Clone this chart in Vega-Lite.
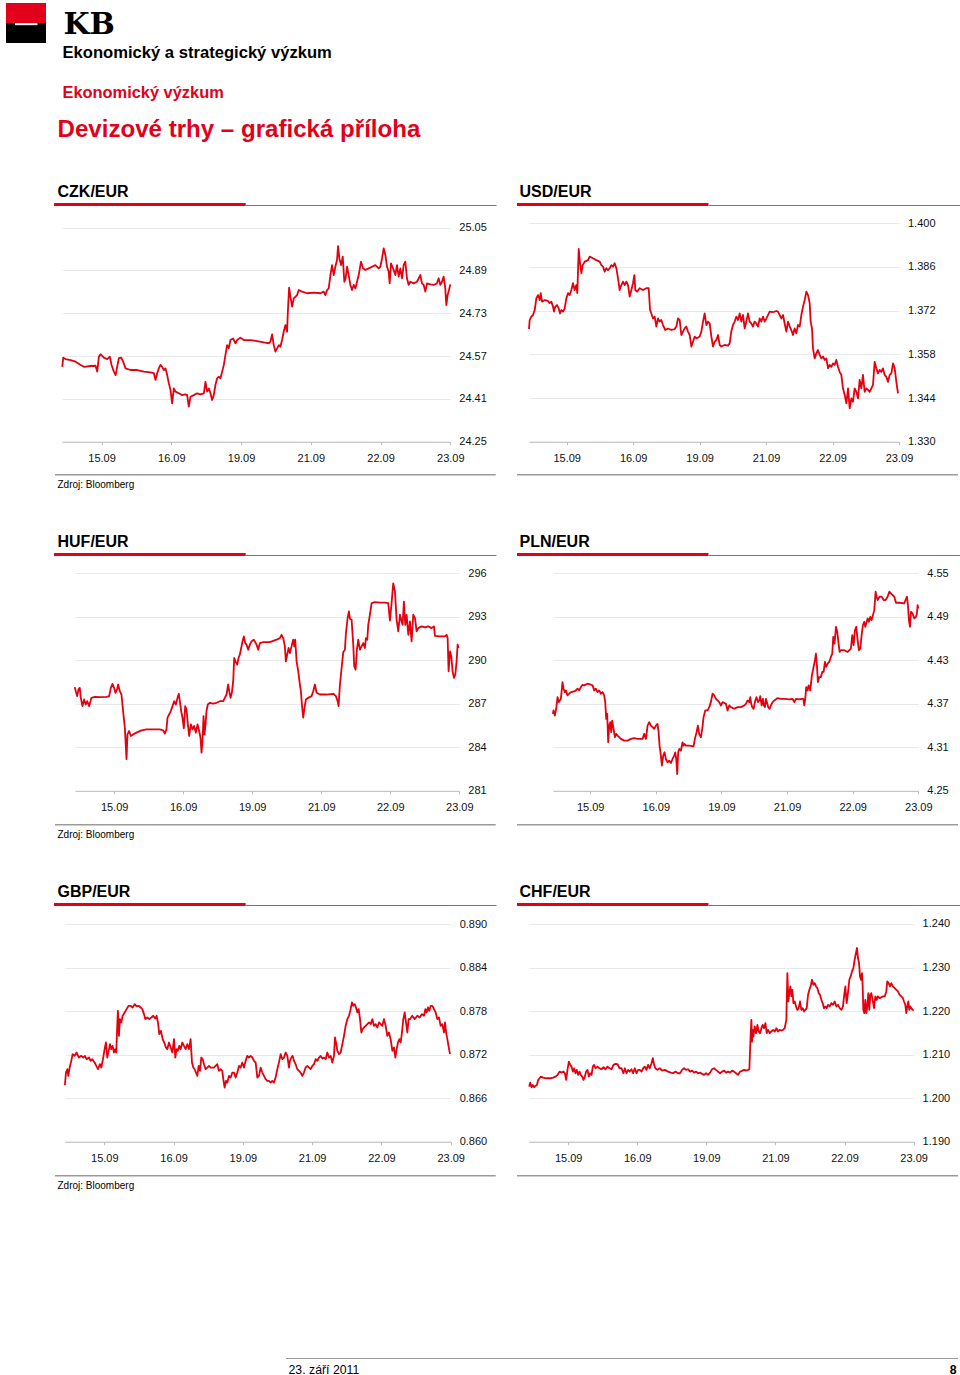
{
"$schema": "https://vega.github.io/schema/vega-lite/v6.json",
"padding": 0,
"background": "white",
"config": {
  "view": {"stroke": null},
  "concat": {"spacing": 0},
  "point": {"filled": true, "strokeWidth": 0, "stroke": null},
  "font": "Liberation Sans",
  "axis": {"labelFont": "Liberation Sans", "labelFontSize": 11, "labelColor": "#111111", "domainColor": "#bdbdbd", "tickColor": "#bdbdbd", "gridColor": "#e9e9e9", "gridWidth": 1, "domainWidth": 1}
},
"datasets": {
  "one": [{}],
  "czk": [{"t":0.437,"v":24.530},{"t":0.451,"v":24.564},{"t":0.484,"v":24.559},{"t":0.556,"v":24.555},{"t":0.628,"v":24.549},{"t":0.699,"v":24.537},{"t":0.747,"v":24.530},{"t":0.842,"v":24.533},{"t":0.914,"v":24.534},{"t":0.938,"v":24.512},{"t":0.962,"v":24.568},{"t":0.986,"v":24.577},{"t":1.033,"v":24.564},{"t":1.081,"v":24.559},{"t":1.119,"v":24.568},{"t":1.143,"v":24.537},{"t":1.177,"v":24.512},{"t":1.201,"v":24.499},{"t":1.224,"v":24.530},{"t":1.248,"v":24.562},{"t":1.282,"v":24.564},{"t":1.310,"v":24.549},{"t":1.344,"v":24.524},{"t":1.415,"v":24.518},{"t":1.511,"v":24.518},{"t":1.606,"v":24.512},{"t":1.702,"v":24.509},{"t":1.750,"v":24.506},{"t":1.774,"v":24.481},{"t":1.798,"v":24.506},{"t":1.821,"v":24.524},{"t":1.845,"v":24.537},{"t":1.869,"v":24.530},{"t":1.893,"v":24.518},{"t":1.917,"v":24.524},{"t":1.941,"v":24.499},{"t":1.965,"v":24.468},{"t":1.989,"v":24.443},{"t":2.012,"v":24.393},{"t":2.036,"v":24.449},{"t":2.060,"v":24.437},{"t":2.108,"v":24.431},{"t":2.156,"v":24.424},{"t":2.203,"v":24.427},{"t":2.227,"v":24.424},{"t":2.251,"v":24.381},{"t":2.275,"v":24.418},{"t":2.323,"v":24.424},{"t":2.371,"v":24.431},{"t":2.418,"v":24.427},{"t":2.466,"v":24.431},{"t":2.490,"v":24.474},{"t":2.514,"v":24.437},{"t":2.538,"v":24.449},{"t":2.562,"v":24.431},{"t":2.585,"v":24.406},{"t":2.609,"v":24.424},{"t":2.633,"v":24.462},{"t":2.657,"v":24.487},{"t":2.681,"v":24.493},{"t":2.705,"v":24.487},{"t":2.729,"v":24.512},{"t":2.753,"v":24.537},{"t":2.776,"v":24.574},{"t":2.800,"v":24.611},{"t":2.824,"v":24.599},{"t":2.848,"v":24.630},{"t":2.886,"v":24.636},{"t":2.920,"v":24.618},{"t":2.944,"v":24.630},{"t":2.991,"v":24.639},{"t":3.039,"v":24.630},{"t":3.135,"v":24.630},{"t":3.230,"v":24.626},{"t":3.326,"v":24.621},{"t":3.397,"v":24.618},{"t":3.421,"v":24.624},{"t":3.445,"v":24.651},{"t":3.469,"v":24.611},{"t":3.493,"v":24.587},{"t":3.517,"v":24.599},{"t":3.541,"v":24.611},{"t":3.564,"v":24.605},{"t":3.588,"v":24.630},{"t":3.612,"v":24.661},{"t":3.636,"v":24.686},{"t":3.660,"v":24.661},{"t":3.670,"v":24.730},{"t":3.689,"v":24.826},{"t":3.708,"v":24.792},{"t":3.732,"v":24.755},{"t":3.756,"v":24.786},{"t":3.803,"v":24.798},{"t":3.827,"v":24.817},{"t":3.875,"v":24.811},{"t":3.947,"v":24.805},{"t":4.042,"v":24.807},{"t":4.138,"v":24.805},{"t":4.185,"v":24.811},{"t":4.209,"v":24.798},{"t":4.233,"v":24.817},{"t":4.257,"v":24.823},{"t":4.281,"v":24.873},{"t":4.305,"v":24.910},{"t":4.329,"v":24.873},{"t":4.352,"v":24.904},{"t":4.376,"v":24.929},{"t":4.391,"v":24.981},{"t":4.410,"v":24.935},{"t":4.434,"v":24.910},{"t":4.458,"v":24.942},{"t":4.481,"v":24.848},{"t":4.500,"v":24.861},{"t":4.520,"v":24.904},{"t":4.543,"v":24.873},{"t":4.567,"v":24.836},{"t":4.591,"v":24.817},{"t":4.615,"v":24.836},{"t":4.639,"v":24.823},{"t":4.663,"v":24.848},{"t":4.687,"v":24.873},{"t":4.720,"v":24.923},{"t":4.749,"v":24.898},{"t":4.782,"v":24.892},{"t":4.830,"v":24.898},{"t":4.878,"v":24.904},{"t":4.926,"v":24.910},{"t":4.973,"v":24.898},{"t":4.997,"v":24.904},{"t":5.021,"v":24.935},{"t":5.045,"v":24.973},{"t":5.069,"v":24.948},{"t":5.093,"v":24.904},{"t":5.116,"v":24.886},{"t":5.131,"v":24.842},{"t":5.150,"v":24.917},{"t":5.188,"v":24.892},{"t":5.212,"v":24.873},{"t":5.236,"v":24.910},{"t":5.260,"v":24.867},{"t":5.284,"v":24.898},{"t":5.308,"v":24.861},{"t":5.331,"v":24.910},{"t":5.355,"v":24.923},{"t":5.379,"v":24.861},{"t":5.403,"v":24.836},{"t":5.427,"v":24.848},{"t":5.475,"v":24.842},{"t":5.522,"v":24.848},{"t":5.570,"v":24.873},{"t":5.594,"v":24.842},{"t":5.618,"v":24.836},{"t":5.642,"v":24.811},{"t":5.666,"v":24.842},{"t":5.713,"v":24.838},{"t":5.761,"v":24.836},{"t":5.809,"v":24.842},{"t":5.833,"v":24.861},{"t":5.857,"v":24.836},{"t":5.881,"v":24.848},{"t":5.904,"v":24.867},{"t":5.928,"v":24.823},{"t":5.943,"v":24.761},{"t":5.962,"v":24.798},{"t":5.981,"v":24.817},{"t":6.000,"v":24.838}],
  "usd": [{"t":0.433,"v":1.3661},{"t":0.443,"v":1.3690},{"t":0.468,"v":1.3701},{"t":0.493,"v":1.3706},{"t":0.519,"v":1.3722},{"t":0.544,"v":1.3760},{"t":0.569,"v":1.3770},{"t":0.594,"v":1.3754},{"t":0.609,"v":1.3776},{"t":0.629,"v":1.3749},{"t":0.669,"v":1.3754},{"t":0.719,"v":1.3751},{"t":0.744,"v":1.3744},{"t":0.769,"v":1.3749},{"t":0.794,"v":1.3733},{"t":0.809,"v":1.3717},{"t":0.829,"v":1.3733},{"t":0.855,"v":1.3738},{"t":0.880,"v":1.3727},{"t":0.900,"v":1.3711},{"t":0.920,"v":1.3722},{"t":0.945,"v":1.3717},{"t":0.970,"v":1.3727},{"t":0.995,"v":1.3760},{"t":1.020,"v":1.3776},{"t":1.045,"v":1.3770},{"t":1.070,"v":1.3786},{"t":1.095,"v":1.3808},{"t":1.120,"v":1.3786},{"t":1.145,"v":1.3802},{"t":1.160,"v":1.3776},{"t":1.181,"v":1.3918},{"t":1.201,"v":1.3872},{"t":1.221,"v":1.3840},{"t":1.241,"v":1.3866},{"t":1.271,"v":1.3877},{"t":1.321,"v":1.3882},{"t":1.346,"v":1.3893},{"t":1.396,"v":1.3888},{"t":1.446,"v":1.3882},{"t":1.496,"v":1.3877},{"t":1.522,"v":1.3866},{"t":1.547,"v":1.3861},{"t":1.572,"v":1.3845},{"t":1.597,"v":1.3856},{"t":1.622,"v":1.3850},{"t":1.647,"v":1.3856},{"t":1.672,"v":1.3866},{"t":1.697,"v":1.3861},{"t":1.722,"v":1.3872},{"t":1.747,"v":1.3856},{"t":1.772,"v":1.3824},{"t":1.797,"v":1.3786},{"t":1.822,"v":1.3802},{"t":1.848,"v":1.3813},{"t":1.873,"v":1.3802},{"t":1.898,"v":1.3813},{"t":1.923,"v":1.3802},{"t":1.948,"v":1.3765},{"t":1.973,"v":1.3786},{"t":1.998,"v":1.3808},{"t":2.018,"v":1.3834},{"t":2.033,"v":1.3786},{"t":2.058,"v":1.3781},{"t":2.098,"v":1.3792},{"t":2.148,"v":1.3786},{"t":2.199,"v":1.3792},{"t":2.234,"v":1.3792},{"t":2.254,"v":1.3722},{"t":2.274,"v":1.3711},{"t":2.299,"v":1.3695},{"t":2.324,"v":1.3701},{"t":2.349,"v":1.3669},{"t":2.374,"v":1.3695},{"t":2.399,"v":1.3685},{"t":2.424,"v":1.3690},{"t":2.449,"v":1.3674},{"t":2.484,"v":1.3658},{"t":2.525,"v":1.3663},{"t":2.575,"v":1.3658},{"t":2.625,"v":1.3661},{"t":2.650,"v":1.3669},{"t":2.675,"v":1.3695},{"t":2.700,"v":1.3690},{"t":2.725,"v":1.3642},{"t":2.750,"v":1.3653},{"t":2.775,"v":1.3663},{"t":2.800,"v":1.3669},{"t":2.825,"v":1.3653},{"t":2.851,"v":1.3642},{"t":2.876,"v":1.3605},{"t":2.901,"v":1.3621},{"t":2.926,"v":1.3637},{"t":2.951,"v":1.3631},{"t":3.001,"v":1.3637},{"t":3.026,"v":1.3653},{"t":3.051,"v":1.3685},{"t":3.076,"v":1.3711},{"t":3.101,"v":1.3674},{"t":3.126,"v":1.3685},{"t":3.151,"v":1.3679},{"t":3.177,"v":1.3637},{"t":3.202,"v":1.3605},{"t":3.227,"v":1.3621},{"t":3.252,"v":1.3626},{"t":3.277,"v":1.3642},{"t":3.302,"v":1.3610},{"t":3.327,"v":1.3605},{"t":3.377,"v":1.3610},{"t":3.427,"v":1.3608},{"t":3.452,"v":1.3615},{"t":3.477,"v":1.3653},{"t":3.502,"v":1.3674},{"t":3.528,"v":1.3685},{"t":3.553,"v":1.3701},{"t":3.578,"v":1.3690},{"t":3.603,"v":1.3711},{"t":3.628,"v":1.3685},{"t":3.653,"v":1.3706},{"t":3.678,"v":1.3663},{"t":3.703,"v":1.3685},{"t":3.728,"v":1.3711},{"t":3.753,"v":1.3685},{"t":3.778,"v":1.3679},{"t":3.803,"v":1.3669},{"t":3.828,"v":1.3685},{"t":3.854,"v":1.3679},{"t":3.879,"v":1.3669},{"t":3.904,"v":1.3695},{"t":3.929,"v":1.3685},{"t":3.954,"v":1.3701},{"t":3.979,"v":1.3685},{"t":4.004,"v":1.3695},{"t":4.029,"v":1.3706},{"t":4.054,"v":1.3717},{"t":4.104,"v":1.3715},{"t":4.154,"v":1.3719},{"t":4.180,"v":1.3717},{"t":4.205,"v":1.3706},{"t":4.230,"v":1.3695},{"t":4.255,"v":1.3706},{"t":4.280,"v":1.3679},{"t":4.305,"v":1.3653},{"t":4.330,"v":1.3685},{"t":4.355,"v":1.3669},{"t":4.380,"v":1.3658},{"t":4.405,"v":1.3642},{"t":4.430,"v":1.3663},{"t":4.455,"v":1.3647},{"t":4.480,"v":1.3674},{"t":4.506,"v":1.3669},{"t":4.531,"v":1.3706},{"t":4.556,"v":1.3733},{"t":4.581,"v":1.3754},{"t":4.606,"v":1.3781},{"t":4.631,"v":1.3770},{"t":4.656,"v":1.3744},{"t":4.671,"v":1.3685},{"t":4.691,"v":1.3663},{"t":4.706,"v":1.3599},{"t":4.731,"v":1.3567},{"t":4.756,"v":1.3583},{"t":4.781,"v":1.3594},{"t":4.806,"v":1.3578},{"t":4.832,"v":1.3567},{"t":4.857,"v":1.3573},{"t":4.882,"v":1.3562},{"t":4.907,"v":1.3567},{"t":4.932,"v":1.3535},{"t":4.957,"v":1.3546},{"t":4.982,"v":1.3540},{"t":5.007,"v":1.3551},{"t":5.032,"v":1.3546},{"t":5.057,"v":1.3562},{"t":5.082,"v":1.3540},{"t":5.107,"v":1.3524},{"t":5.132,"v":1.3514},{"t":5.157,"v":1.3471},{"t":5.183,"v":1.3450},{"t":5.208,"v":1.3423},{"t":5.233,"v":1.3471},{"t":5.258,"v":1.3407},{"t":5.283,"v":1.3439},{"t":5.308,"v":1.3428},{"t":5.333,"v":1.3471},{"t":5.358,"v":1.3460},{"t":5.383,"v":1.3439},{"t":5.408,"v":1.3498},{"t":5.433,"v":1.3471},{"t":5.458,"v":1.3514},{"t":5.483,"v":1.3460},{"t":5.509,"v":1.3471},{"t":5.534,"v":1.3466},{"t":5.559,"v":1.3460},{"t":5.584,"v":1.3471},{"t":5.609,"v":1.3482},{"t":5.634,"v":1.3556},{"t":5.659,"v":1.3535},{"t":5.684,"v":1.3519},{"t":5.709,"v":1.3530},{"t":5.734,"v":1.3524},{"t":5.759,"v":1.3535},{"t":5.784,"v":1.3514},{"t":5.809,"v":1.3508},{"t":5.834,"v":1.3492},{"t":5.860,"v":1.3514},{"t":5.885,"v":1.3519},{"t":5.910,"v":1.3551},{"t":5.935,"v":1.3535},{"t":5.960,"v":1.3492},{"t":5.985,"v":1.3455}],
  "huf": [{"t":0.430,"v":288.15},{"t":0.444,"v":287.87},{"t":0.464,"v":287.53},{"t":0.483,"v":287.99},{"t":0.502,"v":288.10},{"t":0.517,"v":287.41},{"t":0.541,"v":286.84},{"t":0.565,"v":287.30},{"t":0.589,"v":286.95},{"t":0.609,"v":287.18},{"t":0.638,"v":286.84},{"t":0.671,"v":287.41},{"t":0.720,"v":287.48},{"t":0.792,"v":287.46},{"t":0.889,"v":287.48},{"t":0.928,"v":287.53},{"t":0.952,"v":288.10},{"t":0.976,"v":288.37},{"t":1.000,"v":288.10},{"t":1.019,"v":287.76},{"t":1.043,"v":287.99},{"t":1.058,"v":288.33},{"t":1.082,"v":287.87},{"t":1.106,"v":287.64},{"t":1.130,"v":286.50},{"t":1.155,"v":285.35},{"t":1.179,"v":283.18},{"t":1.193,"v":284.89},{"t":1.217,"v":285.12},{"t":1.242,"v":284.78},{"t":1.275,"v":284.89},{"t":1.324,"v":285.01},{"t":1.396,"v":285.17},{"t":1.469,"v":285.24},{"t":1.565,"v":285.24},{"t":1.662,"v":285.24},{"t":1.710,"v":285.17},{"t":1.734,"v":284.94},{"t":1.758,"v":285.24},{"t":1.773,"v":286.04},{"t":1.797,"v":286.27},{"t":1.821,"v":286.50},{"t":1.845,"v":286.84},{"t":1.870,"v":287.18},{"t":1.894,"v":286.95},{"t":1.918,"v":287.41},{"t":1.937,"v":287.69},{"t":1.952,"v":287.18},{"t":1.971,"v":286.50},{"t":1.990,"v":286.04},{"t":2.010,"v":285.31},{"t":2.029,"v":286.84},{"t":2.048,"v":286.61},{"t":2.068,"v":285.58},{"t":2.087,"v":284.78},{"t":2.111,"v":285.58},{"t":2.135,"v":285.24},{"t":2.159,"v":285.47},{"t":2.184,"v":285.01},{"t":2.208,"v":285.58},{"t":2.232,"v":285.12},{"t":2.251,"v":284.66},{"t":2.266,"v":283.63},{"t":2.280,"v":284.44},{"t":2.295,"v":286.15},{"t":2.309,"v":284.89},{"t":2.324,"v":285.58},{"t":2.338,"v":286.50},{"t":2.357,"v":286.95},{"t":2.387,"v":287.07},{"t":2.435,"v":287.02},{"t":2.483,"v":287.07},{"t":2.531,"v":287.18},{"t":2.580,"v":287.18},{"t":2.604,"v":287.41},{"t":2.628,"v":287.64},{"t":2.652,"v":288.33},{"t":2.667,"v":287.87},{"t":2.686,"v":287.41},{"t":2.705,"v":287.76},{"t":2.725,"v":288.56},{"t":2.739,"v":290.16},{"t":2.758,"v":289.93},{"t":2.783,"v":289.70},{"t":2.802,"v":290.16},{"t":2.821,"v":290.39},{"t":2.841,"v":290.85},{"t":2.860,"v":291.31},{"t":2.879,"v":291.65},{"t":2.899,"v":291.19},{"t":2.918,"v":291.08},{"t":2.942,"v":290.73},{"t":2.966,"v":291.08},{"t":2.990,"v":291.31},{"t":3.024,"v":291.42},{"t":3.063,"v":291.08},{"t":3.087,"v":290.73},{"t":3.111,"v":291.19},{"t":3.159,"v":291.26},{"t":3.256,"v":291.26},{"t":3.353,"v":291.42},{"t":3.401,"v":291.53},{"t":3.425,"v":291.76},{"t":3.449,"v":291.53},{"t":3.473,"v":290.96},{"t":3.488,"v":289.93},{"t":3.507,"v":290.39},{"t":3.527,"v":290.85},{"t":3.546,"v":290.50},{"t":3.570,"v":290.96},{"t":3.594,"v":291.42},{"t":3.609,"v":290.96},{"t":3.623,"v":291.42},{"t":3.643,"v":289.93},{"t":3.667,"v":289.24},{"t":3.691,"v":288.33},{"t":3.705,"v":287.87},{"t":3.720,"v":286.95},{"t":3.739,"v":286.04},{"t":3.758,"v":286.73},{"t":3.778,"v":287.30},{"t":3.812,"v":287.41},{"t":3.860,"v":287.53},{"t":3.884,"v":287.87},{"t":3.908,"v":288.33},{"t":3.932,"v":287.76},{"t":3.981,"v":287.64},{"t":4.077,"v":287.64},{"t":4.174,"v":287.69},{"t":4.213,"v":287.53},{"t":4.237,"v":287.18},{"t":4.251,"v":286.84},{"t":4.271,"v":288.33},{"t":4.295,"v":289.47},{"t":4.319,"v":290.57},{"t":4.343,"v":290.73},{"t":4.358,"v":291.88},{"t":4.382,"v":292.91},{"t":4.401,"v":293.37},{"t":4.416,"v":292.86},{"t":4.440,"v":292.79},{"t":4.464,"v":291.08},{"t":4.478,"v":289.59},{"t":4.498,"v":289.36},{"t":4.517,"v":290.73},{"t":4.536,"v":291.42},{"t":4.560,"v":290.73},{"t":4.585,"v":290.96},{"t":4.609,"v":291.19},{"t":4.633,"v":290.85},{"t":4.647,"v":291.53},{"t":4.667,"v":291.42},{"t":4.681,"v":292.45},{"t":4.705,"v":293.14},{"t":4.730,"v":293.94},{"t":4.778,"v":294.01},{"t":4.850,"v":293.98},{"t":4.923,"v":293.98},{"t":4.971,"v":293.94},{"t":4.995,"v":292.73},{"t":5.019,"v":293.94},{"t":5.043,"v":295.31},{"t":5.068,"v":294.74},{"t":5.092,"v":292.79},{"t":5.116,"v":291.99},{"t":5.140,"v":293.14},{"t":5.164,"v":292.68},{"t":5.179,"v":292.45},{"t":5.198,"v":294.05},{"t":5.217,"v":292.45},{"t":5.237,"v":293.14},{"t":5.261,"v":291.76},{"t":5.285,"v":292.68},{"t":5.309,"v":291.31},{"t":5.333,"v":293.14},{"t":5.358,"v":292.91},{"t":5.382,"v":291.99},{"t":5.406,"v":292.22},{"t":5.454,"v":292.34},{"t":5.502,"v":292.27},{"t":5.551,"v":292.34},{"t":5.599,"v":292.22},{"t":5.633,"v":292.34},{"t":5.647,"v":291.69},{"t":5.720,"v":291.65},{"t":5.792,"v":291.65},{"t":5.816,"v":291.76},{"t":5.831,"v":291.53},{"t":5.845,"v":289.24},{"t":5.865,"v":290.62},{"t":5.884,"v":290.27},{"t":5.903,"v":289.24},{"t":5.923,"v":288.79},{"t":5.942,"v":289.02},{"t":5.961,"v":289.93},{"t":5.976,"v":291.08},{"t":5.990,"v":290.85}],
  "pln": [{"t":0.431,"v":4.3562},{"t":0.441,"v":4.3608},{"t":0.461,"v":4.3539},{"t":0.482,"v":4.3631},{"t":0.502,"v":4.3792},{"t":0.522,"v":4.3723},{"t":0.553,"v":4.3769},{"t":0.578,"v":4.4000},{"t":0.594,"v":4.3908},{"t":0.614,"v":4.3862},{"t":0.629,"v":4.3885},{"t":0.654,"v":4.3816},{"t":0.680,"v":4.3839},{"t":0.705,"v":4.3862},{"t":0.756,"v":4.3871},{"t":0.782,"v":4.3885},{"t":0.807,"v":4.3908},{"t":0.832,"v":4.3885},{"t":0.858,"v":4.3931},{"t":0.883,"v":4.3963},{"t":0.909,"v":4.3954},{"t":0.959,"v":4.3977},{"t":1.010,"v":4.3963},{"t":1.036,"v":4.3954},{"t":1.061,"v":4.3885},{"t":1.086,"v":4.3908},{"t":1.112,"v":4.3862},{"t":1.137,"v":4.3885},{"t":1.163,"v":4.3839},{"t":1.188,"v":4.3862},{"t":1.213,"v":4.3816},{"t":1.229,"v":4.3723},{"t":1.244,"v":4.3492},{"t":1.259,"v":4.3562},{"t":1.274,"v":4.3169},{"t":1.290,"v":4.3400},{"t":1.305,"v":4.3446},{"t":1.320,"v":4.3308},{"t":1.335,"v":4.3469},{"t":1.356,"v":4.3354},{"t":1.376,"v":4.3239},{"t":1.396,"v":4.3285},{"t":1.417,"v":4.3262},{"t":1.442,"v":4.3239},{"t":1.467,"v":4.3216},{"t":1.518,"v":4.3192},{"t":1.569,"v":4.3192},{"t":1.620,"v":4.3216},{"t":1.671,"v":4.3225},{"t":1.722,"v":4.3216},{"t":1.798,"v":4.3216},{"t":1.823,"v":4.3285},{"t":1.849,"v":4.3216},{"t":1.874,"v":4.3400},{"t":1.899,"v":4.3446},{"t":1.925,"v":4.3400},{"t":1.950,"v":4.3377},{"t":1.976,"v":4.3354},{"t":2.001,"v":4.3400},{"t":2.026,"v":4.3423},{"t":2.042,"v":4.3308},{"t":2.057,"v":4.3123},{"t":2.077,"v":4.2985},{"t":2.092,"v":4.2846},{"t":2.113,"v":4.2985},{"t":2.133,"v":4.3031},{"t":2.153,"v":4.2939},{"t":2.179,"v":4.2893},{"t":2.204,"v":4.2916},{"t":2.230,"v":4.2883},{"t":2.255,"v":4.2939},{"t":2.280,"v":4.2985},{"t":2.296,"v":4.3031},{"t":2.311,"v":4.2939},{"t":2.326,"v":4.2731},{"t":2.341,"v":4.3031},{"t":2.357,"v":4.3077},{"t":2.382,"v":4.3054},{"t":2.407,"v":4.3169},{"t":2.423,"v":4.3123},{"t":2.438,"v":4.3146},{"t":2.458,"v":4.3123},{"t":2.509,"v":4.3123},{"t":2.575,"v":4.3114},{"t":2.595,"v":4.3216},{"t":2.621,"v":4.3308},{"t":2.641,"v":4.3400},{"t":2.661,"v":4.3285},{"t":2.687,"v":4.3239},{"t":2.707,"v":4.3354},{"t":2.728,"v":4.3516},{"t":2.753,"v":4.3608},{"t":2.789,"v":4.3608},{"t":2.814,"v":4.3654},{"t":2.839,"v":4.3723},{"t":2.865,"v":4.3839},{"t":2.890,"v":4.3816},{"t":2.916,"v":4.3769},{"t":2.941,"v":4.3746},{"t":2.966,"v":4.3723},{"t":2.992,"v":4.3677},{"t":3.017,"v":4.3723},{"t":3.068,"v":4.3700},{"t":3.093,"v":4.3608},{"t":3.119,"v":4.3677},{"t":3.144,"v":4.3654},{"t":3.195,"v":4.3631},{"t":3.246,"v":4.3654},{"t":3.297,"v":4.3654},{"t":3.347,"v":4.3677},{"t":3.373,"v":4.3700},{"t":3.398,"v":4.3746},{"t":3.424,"v":4.3723},{"t":3.439,"v":4.3792},{"t":3.454,"v":4.3700},{"t":3.469,"v":4.3654},{"t":3.490,"v":4.3631},{"t":3.515,"v":4.3746},{"t":3.535,"v":4.3792},{"t":3.556,"v":4.3723},{"t":3.576,"v":4.3746},{"t":3.591,"v":4.3806},{"t":3.612,"v":4.3677},{"t":3.632,"v":4.3769},{"t":3.647,"v":4.3677},{"t":3.662,"v":4.3654},{"t":3.678,"v":4.3769},{"t":3.693,"v":4.3723},{"t":3.713,"v":4.3654},{"t":3.734,"v":4.3631},{"t":3.754,"v":4.3677},{"t":3.779,"v":4.3723},{"t":3.805,"v":4.3746},{"t":3.856,"v":4.3779},{"t":3.906,"v":4.3769},{"t":3.957,"v":4.3769},{"t":4.033,"v":4.3760},{"t":4.084,"v":4.3769},{"t":4.110,"v":4.3723},{"t":4.135,"v":4.3769},{"t":4.186,"v":4.3760},{"t":4.221,"v":4.3769},{"t":4.247,"v":4.3769},{"t":4.262,"v":4.3677},{"t":4.277,"v":4.3769},{"t":4.292,"v":4.3931},{"t":4.313,"v":4.3885},{"t":4.328,"v":4.3954},{"t":4.353,"v":4.3885},{"t":4.379,"v":4.4092},{"t":4.404,"v":4.4208},{"t":4.425,"v":4.4300},{"t":4.440,"v":4.4392},{"t":4.455,"v":4.4231},{"t":4.470,"v":4.4000},{"t":4.491,"v":4.4069},{"t":4.516,"v":4.4069},{"t":4.536,"v":4.4139},{"t":4.557,"v":4.4139},{"t":4.577,"v":4.4277},{"t":4.597,"v":4.4208},{"t":4.618,"v":4.4254},{"t":4.643,"v":4.4277},{"t":4.668,"v":4.4346},{"t":4.689,"v":4.4392},{"t":4.704,"v":4.4623},{"t":4.724,"v":4.4531},{"t":4.745,"v":4.4762},{"t":4.765,"v":4.4692},{"t":4.785,"v":4.4531},{"t":4.801,"v":4.4415},{"t":4.821,"v":4.4439},{"t":4.872,"v":4.4439},{"t":4.923,"v":4.4415},{"t":4.973,"v":4.4462},{"t":4.994,"v":4.4646},{"t":5.014,"v":4.4508},{"t":5.034,"v":4.4715},{"t":5.055,"v":4.4762},{"t":5.075,"v":4.4577},{"t":5.095,"v":4.4439},{"t":5.116,"v":4.4462},{"t":5.136,"v":4.4646},{"t":5.156,"v":4.4785},{"t":5.177,"v":4.4831},{"t":5.192,"v":4.4762},{"t":5.207,"v":4.4808},{"t":5.227,"v":4.4877},{"t":5.248,"v":4.4831},{"t":5.268,"v":4.4900},{"t":5.288,"v":4.4854},{"t":5.309,"v":4.4923},{"t":5.329,"v":4.4992},{"t":5.349,"v":4.5246},{"t":5.365,"v":4.5177},{"t":5.380,"v":4.5131},{"t":5.410,"v":4.5177},{"t":5.441,"v":4.5177},{"t":5.471,"v":4.5131},{"t":5.502,"v":4.5131},{"t":5.532,"v":4.5177},{"t":5.558,"v":4.5246},{"t":5.583,"v":4.5223},{"t":5.608,"v":4.5200},{"t":5.634,"v":4.5177},{"t":5.659,"v":4.5094},{"t":5.710,"v":4.5094},{"t":5.786,"v":4.5085},{"t":5.812,"v":4.5145},{"t":5.827,"v":4.5177},{"t":5.842,"v":4.5062},{"t":5.857,"v":4.4854},{"t":5.873,"v":4.4762},{"t":5.888,"v":4.4969},{"t":5.913,"v":4.4946},{"t":5.939,"v":4.4877},{"t":5.964,"v":4.4900},{"t":5.979,"v":4.4946},{"t":5.990,"v":4.5062},{"t":6.000,"v":4.5015}],
  "gbp": [{"t":0.432,"v":0.86778},{"t":0.447,"v":0.86953},{"t":0.466,"v":0.86999},{"t":0.480,"v":0.86907},{"t":0.500,"v":0.87022},{"t":0.524,"v":0.87114},{"t":0.543,"v":0.87206},{"t":0.572,"v":0.87183},{"t":0.601,"v":0.87229},{"t":0.634,"v":0.87160},{"t":0.668,"v":0.87183},{"t":0.697,"v":0.87160},{"t":0.721,"v":0.87183},{"t":0.745,"v":0.87137},{"t":0.779,"v":0.87160},{"t":0.803,"v":0.87114},{"t":0.827,"v":0.87137},{"t":0.860,"v":0.87091},{"t":0.885,"v":0.87045},{"t":0.909,"v":0.86999},{"t":0.937,"v":0.87068},{"t":0.957,"v":0.87022},{"t":0.981,"v":0.87137},{"t":1.005,"v":0.87275},{"t":1.024,"v":0.87367},{"t":1.043,"v":0.87160},{"t":1.063,"v":0.87252},{"t":1.082,"v":0.87344},{"t":1.101,"v":0.87275},{"t":1.120,"v":0.87321},{"t":1.140,"v":0.87229},{"t":1.159,"v":0.87275},{"t":1.173,"v":0.87229},{"t":1.188,"v":0.87620},{"t":1.197,"v":0.87804},{"t":1.212,"v":0.87459},{"t":1.226,"v":0.87689},{"t":1.245,"v":0.87643},{"t":1.265,"v":0.87735},{"t":1.294,"v":0.87781},{"t":1.322,"v":0.87827},{"t":1.351,"v":0.87873},{"t":1.380,"v":0.87873},{"t":1.409,"v":0.87850},{"t":1.438,"v":0.87896},{"t":1.467,"v":0.87864},{"t":1.496,"v":0.87873},{"t":1.525,"v":0.87850},{"t":1.549,"v":0.87827},{"t":1.573,"v":0.87758},{"t":1.592,"v":0.87689},{"t":1.621,"v":0.87712},{"t":1.650,"v":0.87689},{"t":1.679,"v":0.87712},{"t":1.707,"v":0.87735},{"t":1.736,"v":0.87698},{"t":1.755,"v":0.87735},{"t":1.775,"v":0.87643},{"t":1.794,"v":0.87482},{"t":1.818,"v":0.87528},{"t":1.842,"v":0.87413},{"t":1.866,"v":0.87367},{"t":1.890,"v":0.87298},{"t":1.909,"v":0.87275},{"t":1.934,"v":0.87367},{"t":1.958,"v":0.87298},{"t":1.982,"v":0.87229},{"t":2.006,"v":0.87413},{"t":2.025,"v":0.87160},{"t":2.044,"v":0.87275},{"t":2.063,"v":0.87252},{"t":2.083,"v":0.87321},{"t":2.102,"v":0.87275},{"t":2.126,"v":0.87367},{"t":2.150,"v":0.87321},{"t":2.174,"v":0.87275},{"t":2.198,"v":0.87344},{"t":2.222,"v":0.87275},{"t":2.246,"v":0.87413},{"t":2.266,"v":0.87091},{"t":2.285,"v":0.87022},{"t":2.304,"v":0.86999},{"t":2.323,"v":0.86953},{"t":2.343,"v":0.86907},{"t":2.362,"v":0.87045},{"t":2.381,"v":0.86976},{"t":2.400,"v":0.87160},{"t":2.420,"v":0.87137},{"t":2.439,"v":0.87068},{"t":2.463,"v":0.86999},{"t":2.487,"v":0.87022},{"t":2.511,"v":0.87045},{"t":2.535,"v":0.87022},{"t":2.583,"v":0.87022},{"t":2.631,"v":0.87068},{"t":2.655,"v":0.86976},{"t":2.679,"v":0.86999},{"t":2.703,"v":0.86976},{"t":2.718,"v":0.86861},{"t":2.737,"v":0.86746},{"t":2.756,"v":0.86838},{"t":2.776,"v":0.86815},{"t":2.800,"v":0.86907},{"t":2.824,"v":0.86884},{"t":2.848,"v":0.86953},{"t":2.872,"v":0.86953},{"t":2.896,"v":0.86884},{"t":2.920,"v":0.86953},{"t":2.944,"v":0.87045},{"t":2.968,"v":0.87022},{"t":2.992,"v":0.87091},{"t":3.016,"v":0.87022},{"t":3.040,"v":0.87114},{"t":3.064,"v":0.87183},{"t":3.088,"v":0.87160},{"t":3.112,"v":0.87183},{"t":3.137,"v":0.87160},{"t":3.161,"v":0.87114},{"t":3.185,"v":0.87091},{"t":3.209,"v":0.86884},{"t":3.233,"v":0.86907},{"t":3.257,"v":0.87022},{"t":3.281,"v":0.86953},{"t":3.305,"v":0.86907},{"t":3.329,"v":0.86861},{"t":3.353,"v":0.86838},{"t":3.377,"v":0.86838},{"t":3.401,"v":0.86815},{"t":3.425,"v":0.86838},{"t":3.449,"v":0.86815},{"t":3.473,"v":0.86884},{"t":3.497,"v":0.86999},{"t":3.521,"v":0.87091},{"t":3.546,"v":0.87206},{"t":3.570,"v":0.87137},{"t":3.594,"v":0.87160},{"t":3.618,"v":0.87229},{"t":3.642,"v":0.87183},{"t":3.666,"v":0.87022},{"t":3.680,"v":0.87114},{"t":3.700,"v":0.87160},{"t":3.719,"v":0.87183},{"t":3.738,"v":0.87114},{"t":3.762,"v":0.87068},{"t":3.786,"v":0.86999},{"t":3.810,"v":0.86976},{"t":3.834,"v":0.86953},{"t":3.858,"v":0.86907},{"t":3.882,"v":0.86953},{"t":3.906,"v":0.87022},{"t":3.931,"v":0.87045},{"t":3.955,"v":0.87022},{"t":3.979,"v":0.86999},{"t":4.003,"v":0.87045},{"t":4.027,"v":0.87068},{"t":4.051,"v":0.87137},{"t":4.075,"v":0.87114},{"t":4.099,"v":0.87160},{"t":4.123,"v":0.87183},{"t":4.147,"v":0.87146},{"t":4.171,"v":0.87160},{"t":4.195,"v":0.87137},{"t":4.219,"v":0.87229},{"t":4.243,"v":0.87160},{"t":4.267,"v":0.87183},{"t":4.291,"v":0.87091},{"t":4.315,"v":0.87183},{"t":4.330,"v":0.87436},{"t":4.349,"v":0.87344},{"t":4.364,"v":0.87252},{"t":4.388,"v":0.87206},{"t":4.412,"v":0.87229},{"t":4.436,"v":0.87344},{"t":4.460,"v":0.87459},{"t":4.484,"v":0.87597},{"t":4.508,"v":0.87689},{"t":4.532,"v":0.87735},{"t":4.556,"v":0.87827},{"t":4.575,"v":0.87919},{"t":4.595,"v":0.87873},{"t":4.614,"v":0.87896},{"t":4.633,"v":0.87850},{"t":4.652,"v":0.87781},{"t":4.672,"v":0.87827},{"t":4.691,"v":0.87689},{"t":4.710,"v":0.87505},{"t":4.729,"v":0.87551},{"t":4.749,"v":0.87574},{"t":4.773,"v":0.87597},{"t":4.797,"v":0.87620},{"t":4.821,"v":0.87643},{"t":4.845,"v":0.87620},{"t":4.869,"v":0.87689},{"t":4.893,"v":0.87597},{"t":4.917,"v":0.87620},{"t":4.941,"v":0.87574},{"t":4.965,"v":0.87643},{"t":4.989,"v":0.87620},{"t":5.013,"v":0.87597},{"t":5.037,"v":0.87689},{"t":5.061,"v":0.87597},{"t":5.085,"v":0.87459},{"t":5.109,"v":0.87505},{"t":5.133,"v":0.87413},{"t":5.158,"v":0.87252},{"t":5.182,"v":0.87298},{"t":5.201,"v":0.87160},{"t":5.220,"v":0.87275},{"t":5.239,"v":0.87367},{"t":5.259,"v":0.87413},{"t":5.278,"v":0.87367},{"t":5.297,"v":0.87505},{"t":5.316,"v":0.87689},{"t":5.336,"v":0.87781},{"t":5.355,"v":0.87643},{"t":5.374,"v":0.87505},{"t":5.393,"v":0.87689},{"t":5.413,"v":0.87689},{"t":5.446,"v":0.87735},{"t":5.480,"v":0.87689},{"t":5.518,"v":0.87735},{"t":5.552,"v":0.87712},{"t":5.586,"v":0.87758},{"t":5.615,"v":0.87735},{"t":5.634,"v":0.87827},{"t":5.653,"v":0.87781},{"t":5.672,"v":0.87850},{"t":5.692,"v":0.87804},{"t":5.711,"v":0.87873},{"t":5.735,"v":0.87873},{"t":5.759,"v":0.87827},{"t":5.783,"v":0.87781},{"t":5.807,"v":0.87689},{"t":5.831,"v":0.87712},{"t":5.855,"v":0.87597},{"t":5.879,"v":0.87620},{"t":5.903,"v":0.87505},{"t":5.918,"v":0.87643},{"t":5.937,"v":0.87482},{"t":5.952,"v":0.87413},{"t":5.976,"v":0.87275},{"t":5.990,"v":0.87206}],
  "chf": [{"t":0.436,"v":1.20265},{"t":0.450,"v":1.20357},{"t":0.470,"v":1.20250},{"t":0.489,"v":1.20304},{"t":0.508,"v":1.20250},{"t":0.527,"v":1.20281},{"t":0.547,"v":1.20304},{"t":0.566,"v":1.20419},{"t":0.585,"v":1.20457},{"t":0.605,"v":1.20495},{"t":0.638,"v":1.20472},{"t":0.687,"v":1.20457},{"t":0.735,"v":1.20457},{"t":0.783,"v":1.20472},{"t":0.817,"v":1.20495},{"t":0.846,"v":1.20534},{"t":0.875,"v":1.20610},{"t":0.904,"v":1.20587},{"t":0.932,"v":1.20610},{"t":0.952,"v":1.20572},{"t":0.971,"v":1.20419},{"t":0.990,"v":1.20649},{"t":1.010,"v":1.20840},{"t":1.029,"v":1.20764},{"t":1.048,"v":1.20725},{"t":1.068,"v":1.20610},{"t":1.087,"v":1.20687},{"t":1.106,"v":1.20572},{"t":1.125,"v":1.20649},{"t":1.145,"v":1.20534},{"t":1.164,"v":1.20610},{"t":1.183,"v":1.20534},{"t":1.203,"v":1.20495},{"t":1.222,"v":1.20419},{"t":1.241,"v":1.20495},{"t":1.260,"v":1.20610},{"t":1.280,"v":1.20649},{"t":1.299,"v":1.20495},{"t":1.318,"v":1.20572},{"t":1.338,"v":1.20534},{"t":1.357,"v":1.20725},{"t":1.376,"v":1.20764},{"t":1.395,"v":1.20687},{"t":1.424,"v":1.20725},{"t":1.453,"v":1.20687},{"t":1.482,"v":1.20664},{"t":1.511,"v":1.20710},{"t":1.540,"v":1.20664},{"t":1.569,"v":1.20725},{"t":1.598,"v":1.20687},{"t":1.627,"v":1.20664},{"t":1.656,"v":1.20764},{"t":1.685,"v":1.20787},{"t":1.714,"v":1.20779},{"t":1.743,"v":1.20687},{"t":1.772,"v":1.20687},{"t":1.800,"v":1.20572},{"t":1.820,"v":1.20687},{"t":1.844,"v":1.20572},{"t":1.868,"v":1.20649},{"t":1.892,"v":1.20610},{"t":1.916,"v":1.20664},{"t":1.940,"v":1.20572},{"t":1.964,"v":1.20687},{"t":1.989,"v":1.20572},{"t":2.013,"v":1.20649},{"t":2.037,"v":1.20649},{"t":2.061,"v":1.20610},{"t":2.085,"v":1.20687},{"t":2.109,"v":1.20725},{"t":2.133,"v":1.20649},{"t":2.157,"v":1.20764},{"t":2.181,"v":1.20687},{"t":2.206,"v":1.20802},{"t":2.225,"v":1.20917},{"t":2.244,"v":1.20764},{"t":2.263,"v":1.20687},{"t":2.292,"v":1.20649},{"t":2.326,"v":1.20687},{"t":2.360,"v":1.20633},{"t":2.398,"v":1.20649},{"t":2.447,"v":1.20610},{"t":2.485,"v":1.20587},{"t":2.519,"v":1.20572},{"t":2.553,"v":1.20610},{"t":2.591,"v":1.20572},{"t":2.620,"v":1.20572},{"t":2.649,"v":1.20649},{"t":2.678,"v":1.20687},{"t":2.707,"v":1.20649},{"t":2.736,"v":1.20664},{"t":2.765,"v":1.20610},{"t":2.794,"v":1.20633},{"t":2.823,"v":1.20587},{"t":2.852,"v":1.20610},{"t":2.881,"v":1.20572},{"t":2.909,"v":1.20587},{"t":2.938,"v":1.20557},{"t":2.967,"v":1.20534},{"t":2.996,"v":1.20572},{"t":3.025,"v":1.20534},{"t":3.054,"v":1.20587},{"t":3.083,"v":1.20664},{"t":3.112,"v":1.20687},{"t":3.141,"v":1.20649},{"t":3.170,"v":1.20610},{"t":3.199,"v":1.20572},{"t":3.228,"v":1.20610},{"t":3.257,"v":1.20633},{"t":3.286,"v":1.20587},{"t":3.315,"v":1.20610},{"t":3.344,"v":1.20587},{"t":3.372,"v":1.20633},{"t":3.401,"v":1.20610},{"t":3.430,"v":1.20572},{"t":3.459,"v":1.20534},{"t":3.488,"v":1.20610},{"t":3.517,"v":1.20626},{"t":3.546,"v":1.20649},{"t":3.575,"v":1.20633},{"t":3.604,"v":1.20649},{"t":3.623,"v":1.20664},{"t":3.633,"v":1.21109},{"t":3.642,"v":1.21492},{"t":3.652,"v":1.21799},{"t":3.662,"v":1.21301},{"t":3.671,"v":1.21569},{"t":3.681,"v":1.21416},{"t":3.700,"v":1.21646},{"t":3.720,"v":1.21492},{"t":3.739,"v":1.21684},{"t":3.758,"v":1.21531},{"t":3.777,"v":1.21492},{"t":3.797,"v":1.21607},{"t":3.816,"v":1.21684},{"t":3.835,"v":1.21607},{"t":3.855,"v":1.21722},{"t":3.874,"v":1.21492},{"t":3.893,"v":1.21569},{"t":3.917,"v":1.21492},{"t":3.941,"v":1.21531},{"t":3.966,"v":1.21569},{"t":3.990,"v":1.21531},{"t":4.014,"v":1.21607},{"t":4.038,"v":1.21531},{"t":4.062,"v":1.21569},{"t":4.086,"v":1.21554},{"t":4.110,"v":1.21569},{"t":4.134,"v":1.21607},{"t":4.158,"v":1.21799},{"t":4.173,"v":1.22873},{"t":4.187,"v":1.22221},{"t":4.202,"v":1.22413},{"t":4.216,"v":1.22566},{"t":4.231,"v":1.22336},{"t":4.245,"v":1.22489},{"t":4.260,"v":1.22182},{"t":4.279,"v":1.22221},{"t":4.298,"v":1.22106},{"t":4.318,"v":1.22029},{"t":4.337,"v":1.22067},{"t":4.356,"v":1.22221},{"t":4.375,"v":1.22029},{"t":4.395,"v":1.22067},{"t":4.414,"v":1.21991},{"t":4.433,"v":1.22029},{"t":4.453,"v":1.22067},{"t":4.472,"v":1.22374},{"t":4.491,"v":1.22489},{"t":4.510,"v":1.22566},{"t":4.530,"v":1.22719},{"t":4.549,"v":1.22604},{"t":4.568,"v":1.22643},{"t":4.588,"v":1.22566},{"t":4.607,"v":1.22528},{"t":4.626,"v":1.22413},{"t":4.645,"v":1.22374},{"t":4.665,"v":1.22259},{"t":4.684,"v":1.22182},{"t":4.703,"v":1.22067},{"t":4.723,"v":1.22106},{"t":4.742,"v":1.22067},{"t":4.761,"v":1.22144},{"t":4.785,"v":1.22106},{"t":4.809,"v":1.22182},{"t":4.833,"v":1.22144},{"t":4.858,"v":1.22221},{"t":4.882,"v":1.22106},{"t":4.906,"v":1.22144},{"t":4.930,"v":1.22067},{"t":4.954,"v":1.22029},{"t":4.978,"v":1.22106},{"t":4.993,"v":1.22336},{"t":5.012,"v":1.22566},{"t":5.031,"v":1.22182},{"t":5.050,"v":1.22413},{"t":5.070,"v":1.22719},{"t":5.089,"v":1.22796},{"t":5.108,"v":1.22911},{"t":5.128,"v":1.22988},{"t":5.147,"v":1.23179},{"t":5.166,"v":1.23333},{"t":5.181,"v":1.23448},{"t":5.195,"v":1.23218},{"t":5.210,"v":1.23103},{"t":5.224,"v":1.22796},{"t":5.239,"v":1.22719},{"t":5.253,"v":1.22873},{"t":5.263,"v":1.22566},{"t":5.272,"v":1.22029},{"t":5.287,"v":1.21952},{"t":5.301,"v":1.22259},{"t":5.316,"v":1.21952},{"t":5.330,"v":1.22106},{"t":5.345,"v":1.22413},{"t":5.359,"v":1.22029},{"t":5.374,"v":1.22374},{"t":5.388,"v":1.22413},{"t":5.407,"v":1.22259},{"t":5.427,"v":1.22067},{"t":5.446,"v":1.22336},{"t":5.465,"v":1.22259},{"t":5.484,"v":1.22336},{"t":5.509,"v":1.22297},{"t":5.533,"v":1.22320},{"t":5.557,"v":1.22336},{"t":5.581,"v":1.22336},{"t":5.605,"v":1.22451},{"t":5.619,"v":1.22681},{"t":5.639,"v":1.22643},{"t":5.658,"v":1.22566},{"t":5.677,"v":1.22643},{"t":5.701,"v":1.22566},{"t":5.726,"v":1.22528},{"t":5.750,"v":1.22489},{"t":5.774,"v":1.22451},{"t":5.798,"v":1.22374},{"t":5.822,"v":1.22336},{"t":5.846,"v":1.22297},{"t":5.861,"v":1.22221},{"t":5.880,"v":1.22144},{"t":5.894,"v":1.21952},{"t":5.909,"v":1.22106},{"t":5.923,"v":1.22221},{"t":5.938,"v":1.22029},{"t":5.952,"v":1.22106},{"t":5.967,"v":1.22067},{"t":5.986,"v":1.22029},{"t":6.000,"v":1.22014}]
},
"spacing": 0,
"bounds": "full",
"vconcat": [
  {"width": 1, "height": 3, "data": {"name": "one"}, "mark": {"type": "point", "size": 0, "opacity": 0}},
  {"spacing": 0, "bounds": "flush", "hconcat": [
    {"width": 6, "height": 40, "data": {"name": "one"}, "mark": {"type": "point", "size": 0, "opacity": 0}},
    {"width": 40, "height": 40, "data": {"values": [{"p": "a"}, {"p": "b"}]},
     "layer": [
       {"mark": {"type": "rect"}, "encoding": {
         "y": {"field": "p", "type": "nominal", "scale": {"domain": ["a", "b"], "paddingInner": 0, "paddingOuter": 0}, "axis": null},
         "color": {"field": "p", "type": "nominal", "scale": {"domain": ["a", "b"], "range": ["#e2001a", "#000000"]}, "legend": null}}},
       {"mark": {"type": "rule", "color": "#ffffff", "strokeWidth": 1.8, "yOffset": 1.2}, "encoding": {
         "y": {"datum": "b", "type": "nominal", "bandPosition": 0},
         "x": {"datum": 9, "type": "quantitative", "scale": {"domain": [0, 40], "nice": false, "zero": false}, "axis": null},
         "x2": {"datum": 31.3}}}
     ]},
    {"width": 17, "height": 40, "data": {"name": "one"}, "mark": {"type": "point", "size": 0, "opacity": 0}},
    {"width": 1, "height": 40, "data": {"values": [{"s": "KB"}]}, "mark": {"type": "text", "align": "left", "baseline": "middle", "dy": 2, "font": "DejaVu Serif", "fontSize": 30, "fontWeight": "bold", "color": "#000000"}, "encoding": {"text": {"field": "s"}}}
  ]},
  {"width": 1, "height": 1, "data": {"name": "one"}, "mark": {"type": "point", "size": 0, "opacity": 0}},
  {"spacing": 0, "bounds": "flush", "hconcat": [
    {"width": 61.2, "height": 18, "data": {"name": "one"}, "mark": {"type": "point", "size": 0, "opacity": 0}},
    {"width": 1, "height": 18, "data": {"values": [{"s": "Ekonomický a strategický výzkum"}]}, "mark": {"type": "text", "align": "left", "baseline": "middle", "dy": 0.38, "font": "Liberation Sans", "fontSize": 16.6, "fontWeight": "bold", "color": "#000000"}, "encoding": {"text": {"field": "s"}}}
  ]},
  {"width": 1, "height": 22, "data": {"name": "one"}, "mark": {"type": "point", "size": 0, "opacity": 0}},
  {"spacing": 0, "bounds": "flush", "hconcat": [
    {"width": 61.2, "height": 18, "data": {"name": "one"}, "mark": {"type": "point", "size": 0, "opacity": 0}},
    {"width": 1, "height": 18, "data": {"values": [{"s": "Ekonomický výzkum"}]}, "mark": {"type": "text", "align": "left", "baseline": "middle", "dy": 0.38, "font": "Liberation Sans", "fontSize": 16.4, "fontWeight": "bold", "color": "#e2001a"}, "encoding": {"text": {"field": "s"}}}
  ]},
  {"width": 1, "height": 14, "data": {"name": "one"}, "mark": {"type": "point", "size": 0, "opacity": 0}},
  {"spacing": 0, "bounds": "flush", "hconcat": [
    {"width": 56.8, "height": 26, "data": {"name": "one"}, "mark": {"type": "point", "size": 0, "opacity": 0}},
    {"width": 1, "height": 26, "data": {"values": [{"s": "Devizové trhy – grafická příloha"}]}, "mark": {"type": "text", "align": "left", "baseline": "middle", "dy": 0.65, "font": "Liberation Sans", "fontSize": 24.1, "fontWeight": "bold", "color": "#e2001a"}, "encoding": {"text": {"field": "s"}}}
  ]},
  {"width": 1, "height": 41, "data": {"name": "one"}, "mark": {"type": "point", "size": 0, "opacity": 0}},

  {"spacing": 0, "bounds": "flush", "hconcat": [
    {"width": 56.8, "height": 18, "data": {"name": "one"}, "mark": {"type": "point", "size": 0, "opacity": 0}},
    {"width": 1, "height": 18, "data": {"values": [{"s": "CZK/EUR"}]}, "mark": {"type": "text", "align": "left", "baseline": "middle", "dy": -0.3, "font": "Liberation Sans", "fontSize": 16, "fontWeight": "bold", "color": "#000000"}, "encoding": {"text": {"field": "s"}}},
    {"width": 461, "height": 18, "data": {"name": "one"}, "mark": {"type": "point", "size": 0, "opacity": 0}},
    {"width": 1, "height": 18, "data": {"values": [{"s": "USD/EUR"}]}, "mark": {"type": "text", "align": "left", "baseline": "middle", "dy": -0.3, "font": "Liberation Sans", "fontSize": 16, "fontWeight": "bold", "color": "#000000"}, "encoding": {"text": {"field": "s"}}}
  ]},
  {"width": 1, "height": 2, "data": {"name": "one"}, "mark": {"type": "point", "size": 0, "opacity": 0}},
  {"spacing": 0, "bounds": "flush", "hconcat": [
    {"width": 53.3, "height": 2, "data": {"name": "one"}, "mark": {"type": "point", "size": 0, "opacity": 0}},
    {"width": 191.7, "height": 2, "data": {"name": "one"}, "mark": {"type": "point", "size": 0, "opacity": 0}, "view": {"fill": "#e2001a", "stroke": null}},
    {"width": 270.5, "height": 2, "data": {"name": "one"}, "mark": {"type": "point", "size": 0, "opacity": 0}},
    {"width": 191.5, "height": 2, "data": {"name": "one"}, "mark": {"type": "point", "size": 0, "opacity": 0}, "view": {"fill": "#e2001a", "stroke": null}}
  ]},
  {"spacing": 0, "bounds": "flush", "hconcat": [
    {"width": 53.3, "height": 1, "data": {"name": "one"}, "mark": {"type": "point", "size": 0, "opacity": 0}},
    {"width": 191.7, "height": 1, "data": {"name": "one"}, "mark": {"type": "point", "size": 0, "opacity": 0}, "view": {"fill": "#e2001a", "stroke": null}},
    {"width": 250.5, "height": 1, "data": {"name": "one"}, "mark": {"type": "point", "size": 0, "opacity": 0}, "view": {"fill": "#d9474f", "stroke": null}},
    {"width": 20, "height": 1, "data": {"name": "one"}, "mark": {"type": "point", "size": 0, "opacity": 0}},
    {"width": 191.5, "height": 1, "data": {"name": "one"}, "mark": {"type": "point", "size": 0, "opacity": 0}, "view": {"fill": "#e2001a", "stroke": null}},
    {"width": 251, "height": 1, "data": {"name": "one"}, "mark": {"type": "point", "size": 0, "opacity": 0}, "view": {"fill": "#d9474f", "stroke": null}}
  ]},
  {"width": 1, "height": 11, "data": {"name": "one"}, "mark": {"type": "point", "size": 0, "opacity": 0}},
  {"spacing": 0, "bounds": "flush", "hconcat": [
    {"width": 61.7, "height": 257, "data": {"name": "one"}, "mark": {"type": "point", "size": 0, "opacity": 0}},
    {"width": 388.3, "height": 224.7, "data": {"name": "czk"},
     "mark": {"type": "line", "color": "#e3000f", "strokeWidth": 1.8, "strokeJoin": "round"},
     "encoding": {
       "x": {"field": "t", "type": "quantitative", "scale": {"domain": [0.433, 6], "nice": false, "zero": false}, "axis": {"values": [1,2,3,4,5,6], "labelExpr": "['','15.09','16.09','19.09','21.09','22.09','23.09'][datum.value]", "title": null, "grid": false, "labelFlush": false, "labelOverlap": false, "tickSize": 3, "labelPadding": 7.5}},
       "y": {"field": "v", "type": "quantitative", "scale": {"domain": [24.25, 25.09], "nice": false, "zero": false}, "axis": {"orient": "right", "values": [24.25,24.41,24.57,24.73,24.89,25.05], "format": ".2f", "title": null, "domain": false, "ticks": false, "grid": true, "labelPadding": 8.5, "labelFlush": false, "labelOverlap": false}}
     }},
    {"width": 77.7, "height": 1, "data": {"name": "one"}, "mark": {"type": "point", "size": 0, "opacity": 0}},
    {"width": 370, "height": 224.7, "data": {"name": "usd"},
     "mark": {"type": "line", "color": "#e3000f", "strokeWidth": 1.8, "strokeJoin": "round"},
     "encoding": {
       "x": {"field": "t", "type": "quantitative", "scale": {"domain": [0.433, 6], "nice": false, "zero": false}, "axis": {"values": [1,2,3,4,5,6], "labelExpr": "['','15.09','16.09','19.09','21.09','22.09','23.09'][datum.value]", "title": null, "grid": false, "labelFlush": false, "labelOverlap": false, "tickSize": 3, "labelPadding": 7.5}},
       "y": {"field": "v", "type": "quantitative", "scale": {"domain": [1.330, 1.402019], "nice": false, "zero": false}, "axis": {"orient": "right", "values": [1.330,1.344,1.358,1.372,1.386,1.400], "format": ".3f", "title": null, "domain": false, "ticks": false, "grid": true, "labelPadding": 8.5, "labelFlush": false, "labelOverlap": false}}
     }}
  ]},
  {"spacing": 0, "bounds": "flush", "hconcat": [
    {"width": 55, "height": 2, "data": {"name": "one"}, "mark": {"type": "point", "size": 0, "opacity": 0}},
    {"width": 440.7, "height": 1.4, "data": {"name": "one"}, "mark": {"type": "point", "size": 0, "opacity": 0}, "view": {"fill": "#9b9b9b", "stroke": null}},
    {"width": 20.3, "height": 1.4, "data": {"name": "one"}, "mark": {"type": "point", "size": 0, "opacity": 0}},
    {"width": 441, "height": 1.4, "data": {"name": "one"}, "mark": {"type": "point", "size": 0, "opacity": 0}, "view": {"fill": "#9b9b9b", "stroke": null}}
  ]},
  {"width": 1, "height": 2, "data": {"name": "one"}, "mark": {"type": "point", "size": 0, "opacity": 0}},
  {"spacing": 0, "bounds": "flush", "hconcat": [
    {"width": 56.3, "height": 12, "data": {"name": "one"}, "mark": {"type": "point", "size": 0, "opacity": 0}},
    {"width": 1, "height": 12, "data": {"values": [{"s": "Zdroj: Bloomberg"}]}, "mark": {"type": "text", "align": "left", "baseline": "middle", "dy": 0.5, "font": "Liberation Sans", "fontSize": 10, "color": "#000000"}, "encoding": {"text": {"field": "s"}}}
  ]},
  {"width": 1, "height": 43, "data": {"name": "one"}, "mark": {"type": "point", "size": 0, "opacity": 0}},

  {"spacing": 0, "bounds": "flush", "hconcat": [
    {"width": 56.8, "height": 18, "data": {"name": "one"}, "mark": {"type": "point", "size": 0, "opacity": 0}},
    {"width": 1, "height": 18, "data": {"values": [{"s": "HUF/EUR"}]}, "mark": {"type": "text", "align": "left", "baseline": "middle", "dy": -0.3, "font": "Liberation Sans", "fontSize": 16, "fontWeight": "bold", "color": "#000000"}, "encoding": {"text": {"field": "s"}}},
    {"width": 461, "height": 18, "data": {"name": "one"}, "mark": {"type": "point", "size": 0, "opacity": 0}},
    {"width": 1, "height": 18, "data": {"values": [{"s": "PLN/EUR"}]}, "mark": {"type": "text", "align": "left", "baseline": "middle", "dy": -0.3, "font": "Liberation Sans", "fontSize": 16, "fontWeight": "bold", "color": "#000000"}, "encoding": {"text": {"field": "s"}}}
  ]},
  {"width": 1, "height": 2, "data": {"name": "one"}, "mark": {"type": "point", "size": 0, "opacity": 0}},
  {"spacing": 0, "bounds": "flush", "hconcat": [
    {"width": 53.3, "height": 2, "data": {"name": "one"}, "mark": {"type": "point", "size": 0, "opacity": 0}},
    {"width": 191.7, "height": 2, "data": {"name": "one"}, "mark": {"type": "point", "size": 0, "opacity": 0}, "view": {"fill": "#e2001a", "stroke": null}},
    {"width": 270.5, "height": 2, "data": {"name": "one"}, "mark": {"type": "point", "size": 0, "opacity": 0}},
    {"width": 191.5, "height": 2, "data": {"name": "one"}, "mark": {"type": "point", "size": 0, "opacity": 0}, "view": {"fill": "#e2001a", "stroke": null}}
  ]},
  {"spacing": 0, "bounds": "flush", "hconcat": [
    {"width": 53.3, "height": 1, "data": {"name": "one"}, "mark": {"type": "point", "size": 0, "opacity": 0}},
    {"width": 191.7, "height": 1, "data": {"name": "one"}, "mark": {"type": "point", "size": 0, "opacity": 0}, "view": {"fill": "#e2001a", "stroke": null}},
    {"width": 250.5, "height": 1, "data": {"name": "one"}, "mark": {"type": "point", "size": 0, "opacity": 0}, "view": {"fill": "#d9474f", "stroke": null}},
    {"width": 20, "height": 1, "data": {"name": "one"}, "mark": {"type": "point", "size": 0, "opacity": 0}},
    {"width": 191.5, "height": 1, "data": {"name": "one"}, "mark": {"type": "point", "size": 0, "opacity": 0}, "view": {"fill": "#e2001a", "stroke": null}},
    {"width": 251, "height": 1, "data": {"name": "one"}, "mark": {"type": "point", "size": 0, "opacity": 0}, "view": {"fill": "#d9474f", "stroke": null}}
  ]},
  {"width": 1, "height": 11, "data": {"name": "one"}, "mark": {"type": "point", "size": 0, "opacity": 0}},
  {"spacing": 0, "bounds": "flush", "hconcat": [
    {"width": 75, "height": 257, "data": {"name": "one"}, "mark": {"type": "point", "size": 0, "opacity": 0}},
    {"width": 384.3, "height": 223.8, "data": {"name": "huf"},
     "mark": {"type": "line", "color": "#e3000f", "strokeWidth": 1.8, "strokeJoin": "round"},
     "encoding": {
       "x": {"field": "t", "type": "quantitative", "scale": {"domain": [0.433, 6], "nice": false, "zero": false}, "axis": {"values": [1,2,3,4,5,6], "labelExpr": "['','15.09','16.09','19.09','21.09','22.09','23.09'][datum.value]", "title": null, "grid": false, "labelFlush": false, "labelOverlap": false, "tickSize": 3, "labelPadding": 7.5}},
       "y": {"field": "v", "type": "quantitative", "scale": {"domain": [281, 296.4345], "nice": false, "zero": false}, "axis": {"orient": "right", "values": [281,284,287,290,293,296], "format": "d", "title": null, "domain": false, "ticks": false, "grid": true, "labelPadding": 8.5, "labelFlush": false, "labelOverlap": false}}
     }},
    {"width": 92.7, "height": 1, "data": {"name": "one"}, "mark": {"type": "point", "size": 0, "opacity": 0}},
    {"width": 365.3, "height": 223.8, "data": {"name": "pln"},
     "mark": {"type": "line", "color": "#e3000f", "strokeWidth": 1.8, "strokeJoin": "round"},
     "encoding": {
       "x": {"field": "t", "type": "quantitative", "scale": {"domain": [0.433, 6], "nice": false, "zero": false}, "axis": {"values": [1,2,3,4,5,6], "labelExpr": "['','15.09','16.09','19.09','21.09','22.09','23.09'][datum.value]", "title": null, "grid": false, "labelFlush": false, "labelOverlap": false, "tickSize": 3, "labelPadding": 7.5}},
       "y": {"field": "v", "type": "quantitative", "scale": {"domain": [4.25, 4.55869], "nice": false, "zero": false}, "axis": {"orient": "right", "values": [4.25,4.31,4.37,4.43,4.49,4.55], "format": ".2f", "title": null, "domain": false, "ticks": false, "grid": true, "labelPadding": 8.5, "labelFlush": false, "labelOverlap": false}}
     }}
  ]},
  {"spacing": 0, "bounds": "flush", "hconcat": [
    {"width": 55, "height": 2, "data": {"name": "one"}, "mark": {"type": "point", "size": 0, "opacity": 0}},
    {"width": 440.7, "height": 1.4, "data": {"name": "one"}, "mark": {"type": "point", "size": 0, "opacity": 0}, "view": {"fill": "#9b9b9b", "stroke": null}},
    {"width": 20.3, "height": 1.4, "data": {"name": "one"}, "mark": {"type": "point", "size": 0, "opacity": 0}},
    {"width": 441, "height": 1.4, "data": {"name": "one"}, "mark": {"type": "point", "size": 0, "opacity": 0}, "view": {"fill": "#9b9b9b", "stroke": null}}
  ]},
  {"width": 1, "height": 2, "data": {"name": "one"}, "mark": {"type": "point", "size": 0, "opacity": 0}},
  {"spacing": 0, "bounds": "flush", "hconcat": [
    {"width": 56.3, "height": 12, "data": {"name": "one"}, "mark": {"type": "point", "size": 0, "opacity": 0}},
    {"width": 1, "height": 12, "data": {"values": [{"s": "Zdroj: Bloomberg"}]}, "mark": {"type": "text", "align": "left", "baseline": "middle", "dy": 0.5, "font": "Liberation Sans", "fontSize": 10, "color": "#000000"}, "encoding": {"text": {"field": "s"}}}
  ]},
  {"width": 1, "height": 43, "data": {"name": "one"}, "mark": {"type": "point", "size": 0, "opacity": 0}},

  {"spacing": 0, "bounds": "flush", "hconcat": [
    {"width": 56.8, "height": 18, "data": {"name": "one"}, "mark": {"type": "point", "size": 0, "opacity": 0}},
    {"width": 1, "height": 18, "data": {"values": [{"s": "GBP/EUR"}]}, "mark": {"type": "text", "align": "left", "baseline": "middle", "dy": -0.3, "font": "Liberation Sans", "fontSize": 16, "fontWeight": "bold", "color": "#000000"}, "encoding": {"text": {"field": "s"}}},
    {"width": 461, "height": 18, "data": {"name": "one"}, "mark": {"type": "point", "size": 0, "opacity": 0}},
    {"width": 1, "height": 18, "data": {"values": [{"s": "CHF/EUR"}]}, "mark": {"type": "text", "align": "left", "baseline": "middle", "dy": -0.3, "font": "Liberation Sans", "fontSize": 16, "fontWeight": "bold", "color": "#000000"}, "encoding": {"text": {"field": "s"}}}
  ]},
  {"width": 1, "height": 2, "data": {"name": "one"}, "mark": {"type": "point", "size": 0, "opacity": 0}},
  {"spacing": 0, "bounds": "flush", "hconcat": [
    {"width": 53.3, "height": 2, "data": {"name": "one"}, "mark": {"type": "point", "size": 0, "opacity": 0}},
    {"width": 191.7, "height": 2, "data": {"name": "one"}, "mark": {"type": "point", "size": 0, "opacity": 0}, "view": {"fill": "#e2001a", "stroke": null}},
    {"width": 270.5, "height": 2, "data": {"name": "one"}, "mark": {"type": "point", "size": 0, "opacity": 0}},
    {"width": 191.5, "height": 2, "data": {"name": "one"}, "mark": {"type": "point", "size": 0, "opacity": 0}, "view": {"fill": "#e2001a", "stroke": null}}
  ]},
  {"spacing": 0, "bounds": "flush", "hconcat": [
    {"width": 53.3, "height": 1, "data": {"name": "one"}, "mark": {"type": "point", "size": 0, "opacity": 0}},
    {"width": 191.7, "height": 1, "data": {"name": "one"}, "mark": {"type": "point", "size": 0, "opacity": 0}, "view": {"fill": "#e2001a", "stroke": null}},
    {"width": 250.5, "height": 1, "data": {"name": "one"}, "mark": {"type": "point", "size": 0, "opacity": 0}, "view": {"fill": "#d9474f", "stroke": null}},
    {"width": 20, "height": 1, "data": {"name": "one"}, "mark": {"type": "point", "size": 0, "opacity": 0}},
    {"width": 191.5, "height": 1, "data": {"name": "one"}, "mark": {"type": "point", "size": 0, "opacity": 0}, "view": {"fill": "#e2001a", "stroke": null}},
    {"width": 251, "height": 1, "data": {"name": "one"}, "mark": {"type": "point", "size": 0, "opacity": 0}, "view": {"fill": "#d9474f", "stroke": null}}
  ]},
  {"width": 1, "height": 11, "data": {"name": "one"}, "mark": {"type": "point", "size": 0, "opacity": 0}},
  {"spacing": 0, "bounds": "flush", "hconcat": [
    {"width": 64.3, "height": 257, "data": {"name": "one"}, "mark": {"type": "point", "size": 0, "opacity": 0}},
    {"width": 385.7, "height": 223.7, "data": {"name": "gbp"},
     "mark": {"type": "line", "color": "#e3000f", "strokeWidth": 1.8, "strokeJoin": "round"},
     "encoding": {
       "x": {"field": "t", "type": "quantitative", "scale": {"domain": [0.433, 6], "nice": false, "zero": false}, "axis": {"values": [1,2,3,4,5,6], "labelExpr": "['','15.09','16.09','19.09','21.09','22.09','23.09'][datum.value]", "title": null, "grid": false, "labelFlush": false, "labelOverlap": false, "tickSize": 3, "labelPadding": 7.5}},
       "y": {"field": "v", "type": "quantitative", "scale": {"domain": [0.860, 0.890827], "nice": false, "zero": false}, "axis": {"orient": "right", "values": [0.860,0.866,0.872,0.878,0.884,0.890], "format": ".3f", "title": null, "domain": false, "ticks": false, "grid": true, "labelPadding": 8.5, "labelFlush": false, "labelOverlap": false}}
     }},
    {"width": 77.7, "height": 1, "data": {"name": "one"}, "mark": {"type": "point", "size": 0, "opacity": 0}},
    {"width": 384.6, "height": 223.7, "data": {"name": "chf"},
     "mark": {"type": "line", "color": "#e3000f", "strokeWidth": 1.8, "strokeJoin": "round"},
     "encoding": {
       "x": {"field": "t", "type": "quantitative", "scale": {"domain": [0.433, 6], "nice": false, "zero": false}, "axis": {"values": [1,2,3,4,5,6], "labelExpr": "['','15.09','16.09','19.09','21.09','22.09','23.09'][datum.value]", "title": null, "grid": false, "labelFlush": false, "labelOverlap": false, "tickSize": 3, "labelPadding": 7.5}},
       "y": {"field": "v", "type": "quantitative", "scale": {"domain": [1.190, 1.241378], "nice": false, "zero": false}, "axis": {"orient": "right", "values": [1.190,1.200,1.210,1.220,1.230,1.240], "format": ".3f", "title": null, "domain": false, "ticks": false, "grid": true, "labelPadding": 8.5, "labelFlush": false, "labelOverlap": false}}
     }}
  ]},
  {"spacing": 0, "bounds": "flush", "hconcat": [
    {"width": 55, "height": 2, "data": {"name": "one"}, "mark": {"type": "point", "size": 0, "opacity": 0}},
    {"width": 440.7, "height": 1.4, "data": {"name": "one"}, "mark": {"type": "point", "size": 0, "opacity": 0}, "view": {"fill": "#9b9b9b", "stroke": null}},
    {"width": 20.3, "height": 1.4, "data": {"name": "one"}, "mark": {"type": "point", "size": 0, "opacity": 0}},
    {"width": 441, "height": 1.4, "data": {"name": "one"}, "mark": {"type": "point", "size": 0, "opacity": 0}, "view": {"fill": "#9b9b9b", "stroke": null}}
  ]},
  {"width": 1, "height": 2, "data": {"name": "one"}, "mark": {"type": "point", "size": 0, "opacity": 0}},
  {"spacing": 0, "bounds": "flush", "hconcat": [
    {"width": 56.3, "height": 12, "data": {"name": "one"}, "mark": {"type": "point", "size": 0, "opacity": 0}},
    {"width": 1, "height": 12, "data": {"values": [{"s": "Zdroj: Bloomberg"}]}, "mark": {"type": "text", "align": "left", "baseline": "middle", "dy": 0.5, "font": "Liberation Sans", "fontSize": 10, "color": "#000000"}, "encoding": {"text": {"field": "s"}}}
  ]},

  {"width": 1, "height": 167, "data": {"name": "one"}, "mark": {"type": "point", "size": 0, "opacity": 0}},
  {"spacing": 0, "bounds": "flush", "hconcat": [
    {"width": 286, "height": 1, "data": {"name": "one"}, "mark": {"type": "point", "size": 0, "opacity": 0}},
    {"width": 672, "height": 1, "data": {"name": "one"}, "mark": {"type": "point", "size": 0, "opacity": 0}, "view": {"fill": "#9b9b9b", "stroke": null}}
  ]},
  {"width": 1, "height": 4, "data": {"name": "one"}, "mark": {"type": "point", "size": 0, "opacity": 0}},
  {"spacing": 0, "bounds": "flush", "hconcat": [
    {"width": 287.5, "height": 13, "data": {"name": "one"}, "mark": {"type": "point", "size": 0, "opacity": 0}},
    {"width": 1, "height": 13, "data": {"values": [{"s": "23. září 2011"}]}, "mark": {"type": "text", "align": "left", "baseline": "middle", "dy": 0.3, "font": "Liberation Sans", "fontSize": 12.3, "color": "#000000"}, "encoding": {"text": {"field": "s"}}},
    {"width": 667, "height": 13, "data": {"name": "one"}, "mark": {"type": "point", "size": 0, "opacity": 0}},
    {"width": 1, "height": 13, "data": {"values": [{"s": "8"}]}, "mark": {"type": "text", "align": "right", "baseline": "middle", "dy": 0.3, "font": "Liberation Sans", "fontSize": 12.3, "fontWeight": "bold", "color": "#000000"}, "encoding": {"text": {"field": "s"}}}
  ]}
]
}
